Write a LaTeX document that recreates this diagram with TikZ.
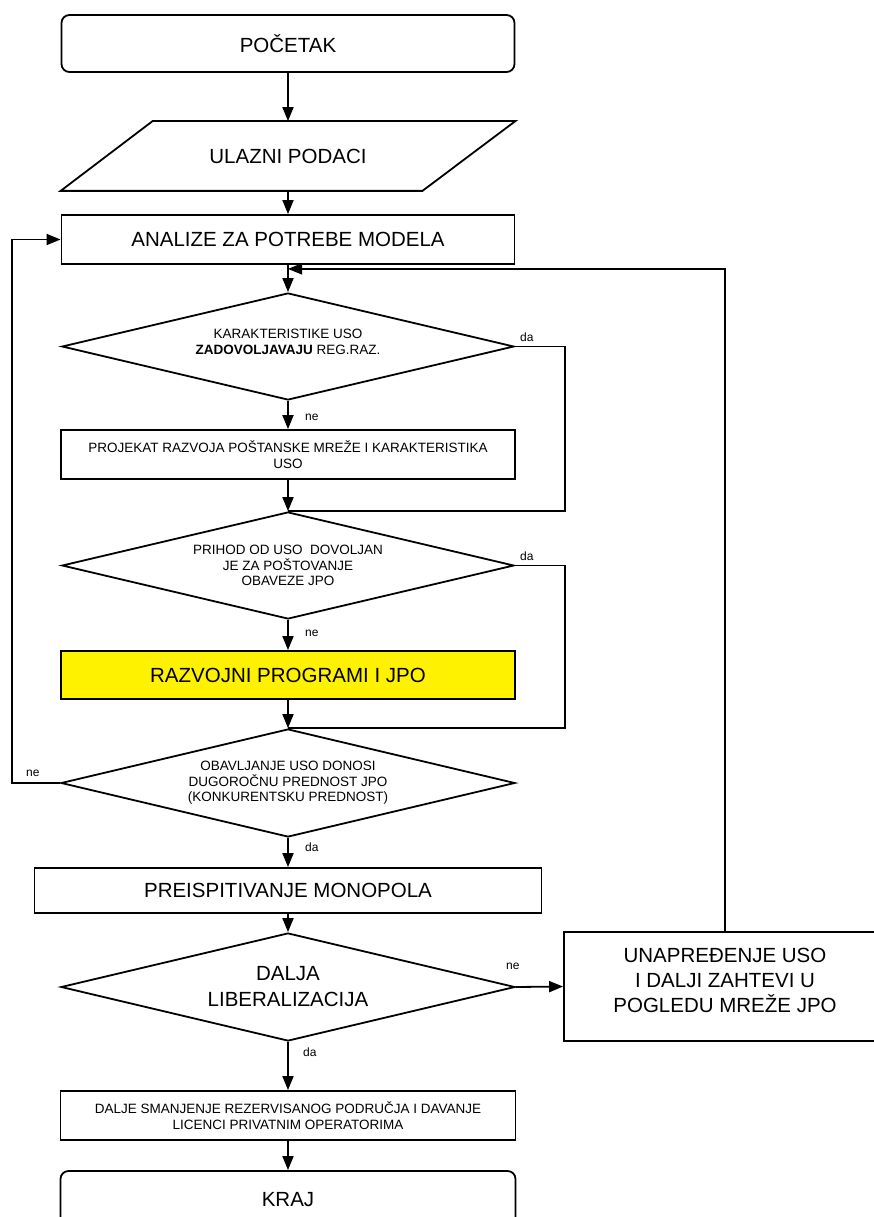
\documentclass[tikz,border=0pt]{standalone}
\usepackage{fontspec}
\setmainfont{Liberation Sans}
\usetikzlibrary{shapes.geometric,arrows.meta}
\tikzset{
  box/.style={draw,line width=1.8pt,align=center,inner sep=0pt,font=\fontsize{20.5}{25}\selectfont},
  smallbox/.style={box,font=\fontsize{13.5}{15.5}\selectfont},
  decision/.style={draw,line width=1.8pt,shape=diamond,shape aspect=4.2,align=center,inner sep=0pt,font=\fontsize{13.5}{15.5}\selectfont},
  lbl/.style={font=\fontsize{12}{14}\selectfont,inner sep=0pt},
  flow/.style={line width=1.8pt,-{Triangle[length=14pt,width=11pt]}},
  line/.style={line width=1.8pt}
}
\begin{document}
\begin{tikzpicture}[x=1pt,y=-1pt]
  \useasboundingbox (0,0) rectangle (874,1217);
  \clip (0,0) rectangle (874,1217);
  \node[box,rounded corners=8pt,minimum width=453,minimum height=57] (start) at (288,43.5) {POČETAK};
  \node[box,draw=none,minimum width=453,minimum height=68] (ulaz) at (288,156) {ULAZNI PODACI};
  \draw[line] ([xshift=92pt]ulaz.north west) -- (ulaz.north east) -- ([xshift=-93pt]ulaz.south east) -- (ulaz.south west) -- cycle;
  \node[box,minimum width=453,minimum height=49] (analiza) at (288,239.5) {ANALIZE ZA POTREBE MODELA};
  \node[decision,minimum width=452,minimum height=107] (d1) at (288,346.5) {KARAKTERISTIKE USO\\\textbf{ZADOVOLJAVAJU} REG.RAZ.\\[-6pt]};
  \node[smallbox,minimum width=454,minimum height=49] (projekat) at (288,454.5) {PROJEKAT RAZVOJA POŠTANSKE MREŽE I KARAKTERISTIKA\\USO};
  \node[decision,minimum width=452,minimum height=107] (d2) at (288,565.5) {PRIHOD OD USO\ \ DOVOLJAN\\JE ZA POŠTOVANJE\\OBAVEZE JPO};
  \node[box,fill=yellow,minimum width=454,minimum height=48] (razvoj) at (288,675) {RAZVOJNI PROGRAMI I JPO};
  \node[decision,minimum width=454,minimum height=108] (d3) at (288,783) {OBAVLJANJE USO DONOSI\\DUGOROČNU PREDNOST JPO\\(KONKURENTSKU PREDNOST)};
  \node[box,minimum width=507,minimum height=45] (preisp) at (288,890.5) {PREISPITIVANJE MONOPOLA};
  \node[decision,font=\fontsize{20.5}{26}\selectfont,minimum width=454,minimum height=108] (d4) at (288,987) {DALJA\\LIBERALIZACIJA};
  \node[box,minimum width=322,minimum height=109] (unapr) at (725,986.5) {UNAPREĐENJE USO\\I DALJI ZAHTEVI U\\POGLEDU MREŽE JPO\\[-13pt]};
  \node[smallbox,minimum width=455,minimum height=49] (dalje) at (288,1115.5) {DALJE SMANJENJE REZERVISANOG PODRUČJA I DAVANJE\\LICENCI PRIVATNIM OPERATORIMA};
  \node[box,rounded corners=8pt,minimum width=455,minimum height=57] (kraj) at (288,1199.5) {KRAJ};
  \draw[flow] (start) -- (ulaz);
  \draw[flow] (ulaz) -- (analiza);
  \draw[flow] (analiza) -- (d1);
  \draw[flow] (d1) -- (projekat);
  \draw[flow] (projekat) -- (d2);
  \draw[flow] (d2) -- (razvoj);
  \draw[flow] (razvoj) -- (d3);
  \draw[flow] (d3) -- (preisp);
  \draw[flow] (preisp) -- (d4);
  \draw[flow] (d4) -- (dalje);
  \draw[flow] (dalje) -- (kraj);
  \draw[flow] (d4.east) -- (unapr.west);
  \draw[line] (d1.east) -- ++(50,0) |- (d2.north);
  \draw[line] (d2.east) -- ++(50,0) |- (d3.north);
  \draw[flow] (d3.west) -- (12,783) |- (analiza.west);
  \draw[flow] (unapr.north) |- ([yshift=-4pt]analiza.south);
  \node[lbl,anchor=west] (da1) at (520,337) {da};
  \node[lbl,anchor=west] (ne1) at (305,417) {ne};
  \node[lbl,anchor=west] (da2) at (520,556) {da};
  \node[lbl,anchor=west] (ne2) at (305,633) {ne};
  \node[lbl,anchor=west] (ne3) at (26,773) {ne};
  \node[lbl,anchor=west] (da3) at (305,847) {da};
  \node[lbl,anchor=west] (ne4) at (506,966) {ne};
  \node[lbl,anchor=west] (da4) at (303,1052) {da};
\end{tikzpicture}
\end{document}
